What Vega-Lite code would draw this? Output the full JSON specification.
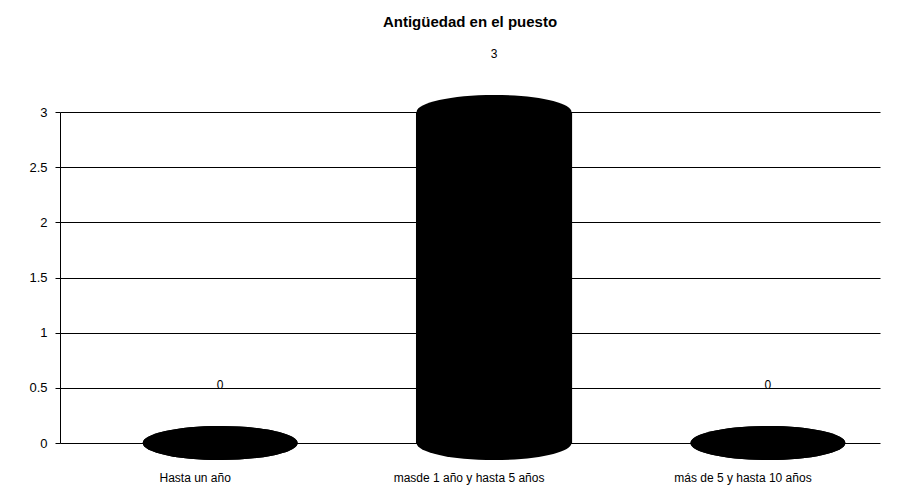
{
  "$schema": "https://vega.github.io/schema/vega-lite/v6.json",
  "autosize": "none",
  "padding": {"left": 60, "top": 112, "right": 38, "bottom": 48},
  "width": 820,
  "height": 331,
  "background": "white",
  "config": {"view": {"stroke": null}, "font": "Liberation Sans"},
  "title": {"text": "Antigüedad en el puesto", "fontSize": 15, "fontWeight": "bold", "color": "black", "offset": 18, "anchor": "middle"},
  "data": {"values": [
    {"cat": "Hasta un año", "value": 0},
    {"cat": "masde 1 año y hasta 5 años", "value": 3},
    {"cat": "más de 5 y hasta 10 años", "value": 0}
  ]},
  "encoding": {
    "x": {"field": "cat", "type": "nominal", "sort": null, "title": null,
      "scale": {"paddingInner": 0.43, "paddingOuter": 0.212, "align": 0.707},
      "axis": {"labelAngle": 0, "labelFontSize": 12, "labelColor": "black", "domain": false, "ticks": false, "labelPadding": 29, "labelOffset": -25, "grid": false}},
    "y": {"field": "value", "type": "quantitative", "title": null,
      "scale": {"domain": [0, 3], "nice": false},
      "axis": {"values": [0, 0.5, 1, 1.5, 2, 2.5, 3], "format": "~g", "labelFontSize": 13, "labelColor": "black", "domainColor": "black", "tickColor": "black", "gridColor": "black", "gridWidth": 1.2, "labelPadding": 8, "tickSize": 5}}
  },
  "layer": [
    {"mark": {"type": "bar", "color": "black"}},
    {"mark": {"type": "point", "filled": true, "color": "black", "opacity": 1, "size": 24000,
      "shape": "M -1 0 A 1 0.22 0 1 0 1 0 A 1 0.22 0 1 0 -1 0 Z"}},
    {"mark": {"type": "point", "filled": true, "color": "black", "opacity": 1, "size": 24000,
      "shape": "M -1 0 A 1 0.22 0 1 0 1 0 A 1 0.22 0 1 0 -1 0 Z"},
      "encoding": {"y": {"datum": 0}}},
    {"mark": {"type": "text", "dy": -58, "fontSize": 12, "color": "black"},
      "encoding": {"text": {"field": "value", "type": "quantitative"}}}
  ]
}
